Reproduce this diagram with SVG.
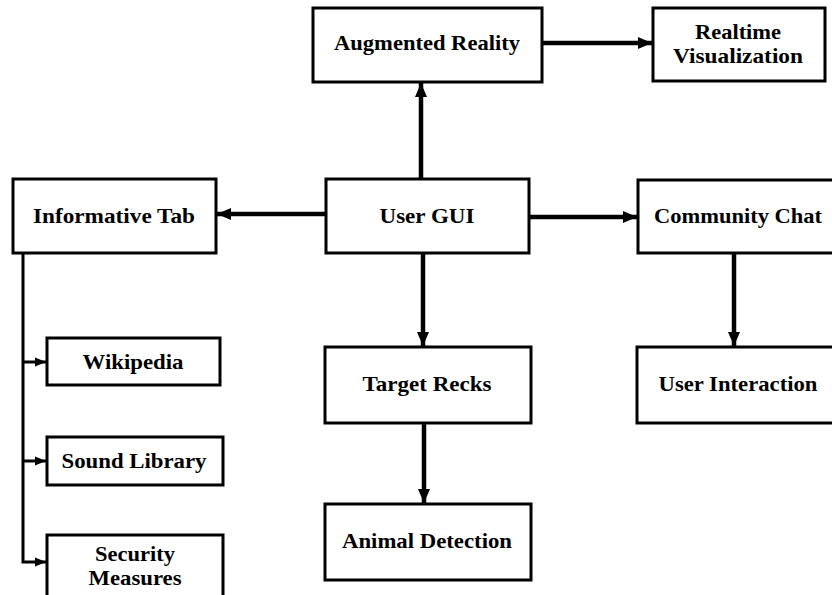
<svg xmlns="http://www.w3.org/2000/svg" width="832" height="595" viewBox="0 0 832 595">
  <style>
    .box { fill: #ffffff; stroke: #000000; stroke-width: 3; }
    .lbl { font-family: "Liberation Serif", "Times New Roman", serif; font-weight: bold; font-size: 21px; fill: #000000; text-anchor: middle; }
    .main { stroke: #000000; stroke-width: 4.5; fill: none; }
    .thin { stroke: #000000; stroke-width: 3; fill: none; }
  </style>
  <defs>
    <marker id="headBig" markerUnits="userSpaceOnUse" markerWidth="14" markerHeight="14" viewBox="0 0 14 14" refX="14" refY="7" orient="auto">
      <path d="M0,1 L14,7 L0,13 Z" fill="#000000"/>
    </marker>
    <marker id="headSmall" markerUnits="userSpaceOnUse" markerWidth="11" markerHeight="11" viewBox="0 0 11 11" refX="11" refY="5.5" orient="auto">
      <path d="M0,1 L11,5.5 L0,10 Z" fill="#000000"/>
    </marker>
  </defs>
  <rect width="832" height="595" fill="#ffffff"/>

  <g id="connectors">
    <line class="main" x1="421" y1="179" x2="421" y2="83" marker-end="url(#headBig)"/>
    <line class="main" x1="542" y1="43" x2="652" y2="43" marker-end="url(#headBig)"/>
    <line class="main" x1="326" y1="214" x2="217" y2="214" marker-end="url(#headBig)"/>
    <line class="main" x1="529" y1="217" x2="637" y2="217" marker-end="url(#headBig)"/>
    <line class="main" x1="423" y1="253" x2="423" y2="346" marker-end="url(#headBig)"/>
    <line class="main" x1="424" y1="423" x2="424" y2="503" marker-end="url(#headBig)"/>
    <line class="main" x1="734" y1="253" x2="734" y2="346" marker-end="url(#headBig)"/>
    <polyline class="thin" points="23,253 23,562 46,562" marker-end="url(#headSmall)"/>
    <line class="thin" x1="23" y1="362" x2="46" y2="362" marker-end="url(#headSmall)"/>
    <line class="thin" x1="23" y1="461" x2="46" y2="461" marker-end="url(#headSmall)"/>
  </g>

  <g id="augmented-reality">
    <rect class="box" x="313" y="8" width="229" height="74"/>
    <text class="lbl" x="427" y="50" textLength="186" lengthAdjust="spacingAndGlyphs">Augmented Reality</text>
  </g>
  <g id="realtime-visualization">
    <rect class="box" x="653" y="8" width="172" height="73"/>
    <text class="lbl" x="738" y="39" textLength="86" lengthAdjust="spacingAndGlyphs">Realtime</text>
    <text class="lbl" x="738" y="63" textLength="130" lengthAdjust="spacingAndGlyphs">Visualization</text>
  </g>
  <g id="informative-tab">
    <rect class="box" x="13" y="179" width="203" height="74"/>
    <text class="lbl" x="114" y="223" textLength="162" lengthAdjust="spacingAndGlyphs">Informative Tab</text>
  </g>
  <g id="user-gui">
    <rect class="box" x="326" y="179" width="203" height="74"/>
    <text class="lbl" x="427" y="223" textLength="95" lengthAdjust="spacingAndGlyphs">User GUI</text>
  </g>
  <g id="community-chat">
    <rect class="box" x="638" y="180" width="200" height="73"/>
    <text class="lbl" x="738" y="223" textLength="168" lengthAdjust="spacingAndGlyphs">Community Chat</text>
  </g>
  <g id="wikipedia">
    <rect class="box" x="47" y="338" width="173" height="47"/>
    <text class="lbl" x="133" y="369" textLength="101" lengthAdjust="spacingAndGlyphs">Wikipedia</text>
  </g>
  <g id="sound-library">
    <rect class="box" x="47" y="437" width="176" height="48"/>
    <text class="lbl" x="134" y="468" textLength="145" lengthAdjust="spacingAndGlyphs">Sound Library</text>
  </g>
  <g id="security-measures">
    <rect class="box" x="47" y="535" width="176" height="70"/>
    <text class="lbl" x="135" y="561" textLength="80" lengthAdjust="spacingAndGlyphs">Security</text>
    <text class="lbl" x="135" y="585" textLength="93" lengthAdjust="spacingAndGlyphs">Measures</text>
  </g>
  <g id="target-recks">
    <rect class="box" x="325" y="347" width="206" height="76"/>
    <text class="lbl" x="427" y="391" textLength="129" lengthAdjust="spacingAndGlyphs">Target Recks</text>
  </g>
  <g id="user-interaction">
    <rect class="box" x="637" y="347" width="200" height="76"/>
    <text class="lbl" x="738" y="391" textLength="159" lengthAdjust="spacingAndGlyphs">User Interaction</text>
  </g>
  <g id="animal-detection">
    <rect class="box" x="325" y="504" width="206" height="76"/>
    <text class="lbl" x="427" y="548" textLength="170" lengthAdjust="spacingAndGlyphs">Animal Detection</text>
  </g>
</svg>
